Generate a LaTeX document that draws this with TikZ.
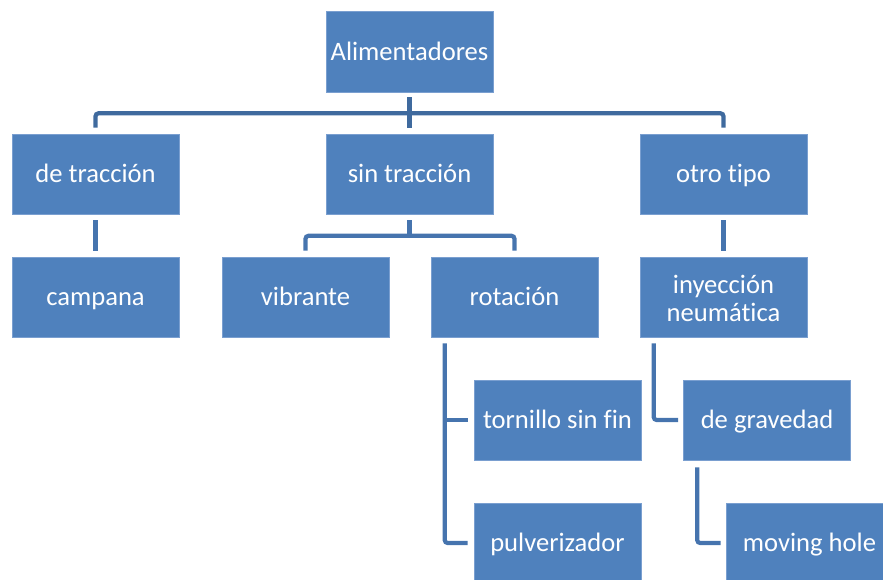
\documentclass[tikz,border=0pt]{standalone}
\usepackage{fontspec}
\setmainfont{Carlito}[Ligatures=NoCommon]
\usetikzlibrary{calc}
\definecolor{boxblue}{HTML}{4F81BD}
\definecolor{boxedge}{HTML}{7A9FD0}
\definecolor{linetop}{HTML}{3F6A9E}
\definecolor{linelow}{HTML}{4674AE}
\newcommand{\boxstrut}{\rule[-7pt]{0pt}{31pt}}
\tikzset{
  box/.style={rectangle, fill=boxblue, draw=boxedge, line width=0.6pt,
    minimum width=167pt, minimum height=80pt, inner sep=2pt,
    text=white, align=center, font=\fontsize{26.6}{28.5}\selectfont,
    execute at begin node=\boxstrut},
  conn/.style={line width=4.2pt, rounded corners=3pt},
}
\begin{document}
\begin{tikzpicture}[x=1pt,y=-1pt]
\useasboundingbox (0,0) rectangle (883,579);
\clip (0,0) rectangle (883,579);
\node[box, minimum height=81pt] (A) at (409.5,51.5) {Alimentadores};
\node[box] (D) at (95.5,174) {de tracción};
\node[box] (S) at (409.5,174) {sin tracción};
\node[box] (O) at (723.5,174) {otro tipo};
\node[box] (C) at (95.5,297) {campana};
\node[box] (V) at (305.5,297) {vibrante};
\node[box] (R) at (514.5,297) {rotación};
\node[box] (I) at (723.5,297) {\rule{0pt}{28pt}inyección\\neumática};
\node[box] (T) at (557.5,420) {tornillo sin fin};
\node[box] (G) at (767,420) {de gravedad};
\node[box] (P) at (557.5,543) {pulverizador};
\node[box] (M) at (809.5,543) {moving hole};
% level 1
\draw[conn, linetop] ([yshift=6pt]D.north) |- ([yshift=-21pt]A.south) -| ([yshift=6pt]O.north);
\draw[conn, linetop] ([yshift=-5pt]A.south) -- ([yshift=6pt]S.north);
% level 2
\draw[conn, linelow] ([yshift=-6pt]D.south) -- ([yshift=6pt]C.north);
\draw[conn, linelow] ([yshift=6pt]V.north) |- ([yshift=-21.5pt]S.south) -| ([yshift=6pt]R.north);
\draw[conn, linelow] ([yshift=-6pt]S.south) -- ([yshift=-21.5pt]S.south);
\draw[conn, linelow] ([yshift=-6pt]O.south) -- ([yshift=6pt]I.north);
% rotación children
\coordinate (rv) at ([xshift=14pt,yshift=-6pt]R.south west);
\draw[conn, linelow] (rv) |- ([xshift=-6pt]P.west);
\draw[conn, linelow, rounded corners=0pt] (rv |- T.west) -- ([xshift=-6pt]T.west);
% inyección child
\coordinate (iv) at ([xshift=14pt,yshift=-6pt]I.south west);
\draw[conn, linelow] (iv) |- ([xshift=-5pt]G.west);
% de gravedad child
\coordinate (gv) at ([xshift=14pt,yshift=-7pt]G.south west);
\draw[conn, linelow] (gv) |- ([xshift=-5pt]M.west);
\end{tikzpicture}
\end{document}
